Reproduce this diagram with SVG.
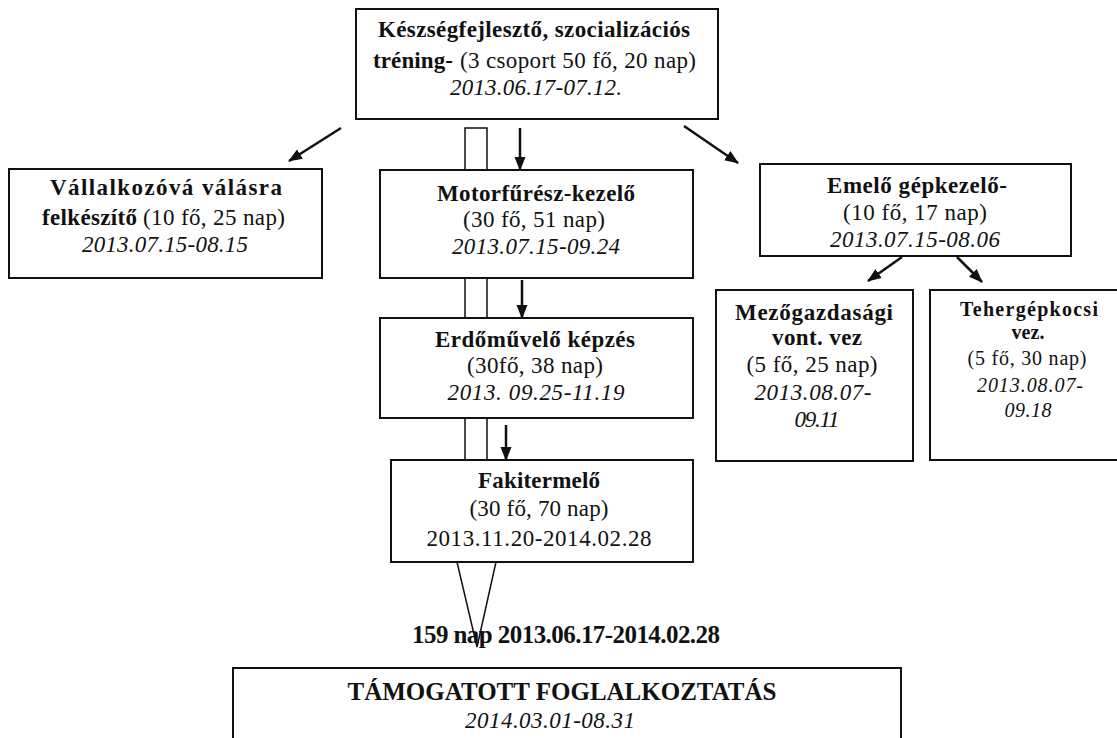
<svg xmlns="http://www.w3.org/2000/svg" width="1117" height="738" viewBox="0 0 1117 738">
<style>
  .box{fill:#fff;stroke:#111;stroke-width:2}
  .t{font-family:"Liberation Serif","Times New Roman",serif;font-size:23px;fill:#111;text-anchor:middle}
  .b{font-weight:bold}
  .i{font-style:italic}
  .s{text-anchor:start}
  .sm{font-size:20px}
  .conn{stroke:#111;fill:none}
  .arr{stroke-width:2.5;marker-end:url(#ah)}
  .thin{stroke-width:1.5}
</style>
<defs>
  <marker id="ah" markerUnits="userSpaceOnUse" markerWidth="14" markerHeight="14" viewBox="0 0 14 14" refX="13" refY="7" orient="auto">
    <path d="M0,1.5 L14,7 L0,12.5 Z" fill="#111"/>
  </marker>
</defs>
<rect width="1117" height="738" fill="#fff"/>

<g id="connectors">
  <path class="conn thin" d="M465,460 V128 H487 V460"/>
  <line class="conn arr" x1="520" y1="128" x2="520" y2="170"/>
  <line class="conn arr" x1="522" y1="280" x2="522" y2="318"/>
  <line class="conn arr" x1="506" y1="425" x2="506" y2="460"/>
  <line class="conn arr" x1="341" y1="128" x2="289" y2="161"/>
  <line class="conn arr" x1="684" y1="126" x2="738" y2="163"/>
  <line class="conn arr" x1="902" y1="257" x2="868" y2="281"/>
  <line class="conn arr" x1="957" y1="257" x2="982" y2="282"/>
  <path class="conn thin" d="M457,562 L477,647 L496,562"/>
</g>

<g id="n-top">
  <rect class="box" x="356" y="9" width="362" height="110"/>
  <text class="t b" x="534" y="37" textLength="312">Készségfejlesztő, szocializációs</text>
  <text class="t s" y="68"><tspan class="b" x="373" textLength="80">tréning-</tspan><tspan x="460" textLength="236">(3 csoport 50 fő, 20 nap)</tspan></text>
  <text class="t i" x="536" y="95" textLength="172">2013.06.17-07.12.</text>
</g>

<g id="n-vallalkozo">
  <rect class="box" x="9" y="169" width="313" height="109"/>
  <text class="t b" x="166" y="195" textLength="232">Vállalkozóvá válásra</text>
  <text class="t s" y="225"><tspan class="b" x="42" textLength="95">felkészítő</tspan><tspan x="143" textLength="142">(10 fő, 25 nap)</tspan></text>
  <text class="t i" x="165" y="252" textLength="166">2013.07.15-08.15</text>
</g>

<g id="n-motorfuresz">
  <rect class="box" x="380" y="170" width="313" height="108"/>
  <text class="t b" x="536" y="201" textLength="198">Motorfűrész-kezelő</text>
  <text class="t" x="534" y="227" textLength="142">(30 fő, 51 nap)</text>
  <text class="t i" x="536" y="254" textLength="168">2013.07.15-09.24</text>
</g>

<g id="n-erdomuvelo">
  <rect class="box" x="380" y="318" width="313" height="100"/>
  <text class="t b" x="535" y="347" textLength="200">Erdőművelő képzés</text>
  <text class="t" x="535" y="373" textLength="136">(30fő, 38 nap)</text>
  <text class="t i" x="536" y="400" textLength="177">2013. 09.25-11.19</text>
</g>

<g id="n-fakitermelo">
  <rect class="box" x="391" y="460" width="302" height="102"/>
  <text class="t b" x="539" y="488" textLength="122">Fakitermelő</text>
  <text class="t" x="539" y="516" textLength="139">(30 fő, 70 nap)</text>
  <text class="t" x="539" y="546" textLength="225">2013.11.20-2014.02.28</text>
</g>

<g id="n-emelo">
  <rect class="box" x="760" y="164" width="311" height="92"/>
  <text class="t b" x="917" y="193" textLength="180">Emelő gépkezelő-</text>
  <text class="t" x="915" y="220" textLength="144">(10 fő, 17 nap)</text>
  <text class="t i" x="915" y="247" textLength="170">2013.07.15-08.06</text>
</g>

<g id="n-mezogazdasagi">
  <rect class="box" x="716" y="290" width="197" height="171"/>
  <text class="t b" x="814" y="320" textLength="158">Mezőgazdasági</text>
  <text class="t b" x="817" y="345" textLength="90">vont. vez</text>
  <text class="t" x="812" y="372" textLength="131">(5 fő, 25 nap)</text>
  <text class="t i" x="813" y="400" textLength="117">2013.08.07-</text>
  <text class="t i" x="817" y="427" textLength="45">09.11</text>
</g>

<g id="n-tehergepkocsi">
  <rect class="box" x="930" y="290" width="200" height="170"/>
  <text class="t b sm" x="1029" y="316" textLength="138">Tehergépkocsi</text>
  <text class="t b sm" x="1028" y="339" textLength="33">vez.</text>
  <text class="t sm" x="1027" y="365" textLength="119">(5 fő, 30 nap)</text>
  <text class="t i sm" x="1030" y="392" textLength="106">2013.08.07-</text>
  <text class="t i sm" x="1028" y="417" textLength="47">09.18</text>
</g>

<g id="n-total">
  <text class="t b" x="566" y="643" textLength="308" style="font-size:25px">159 nap 2013.06.17-2014.02.28</text>
</g>

<g id="n-tamogatott">
  <rect class="box" x="233" y="668" width="668" height="90"/>
  <text class="t b" x="562" y="700" textLength="429" style="font-size:25px">TÁMOGATOTT FOGLALKOZTATÁS</text>
  <text class="t i" x="550" y="728" textLength="170">2014.03.01-08.31</text>
</g>
</svg>
